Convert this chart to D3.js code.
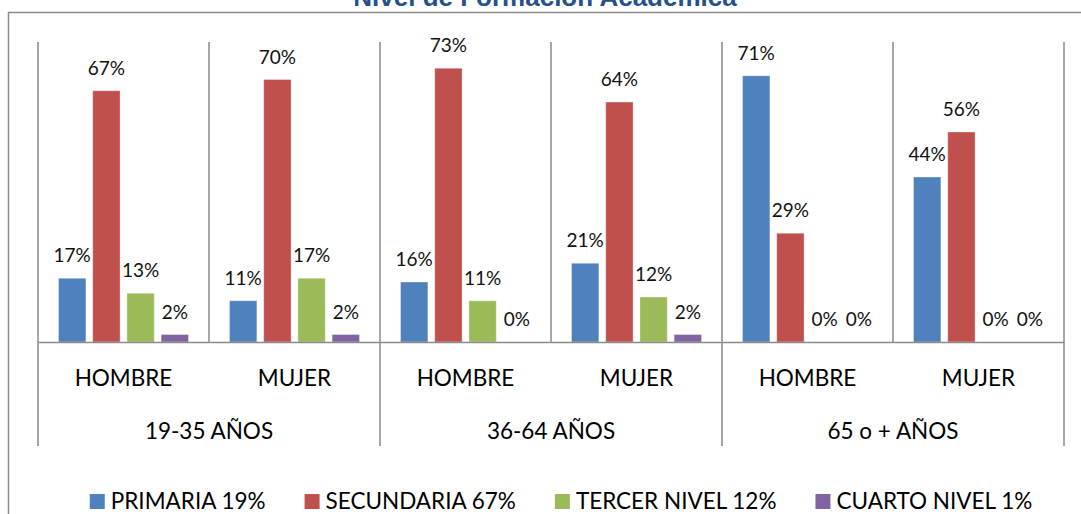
<!DOCTYPE html>
<html>
<head>
<meta charset="utf-8">
<script src="https://cdn.jsdelivr.net/npm/d3@7"></script>
<style>
  body { margin: 0; background: #fff; }
  svg { display: block; font-family: Lato, 'Open Sans', sans-serif; }
</style>
</head>
<body>
<svg id="chart" width="1081" height="514"></svg>
<script>
let groups = ['19-35 AÑOS', '36-64 AÑOS', '65 o + AÑOS']
let sexes = ['HOMBRE', 'MUJER']
let series = ['PRIMARIA', 'SECUNDARIA', 'TERCER NIVEL', 'CUARTO NIVEL']
let totals = [19, 67, 12, 1]
let colors = ['#4F81BD', '#C0504D', '#9BBB59', '#8064A2']
// columns: 19-35 H, 19-35 M, 36-64 H, 36-64 M, 65+ H, 65+ M
let primaria = [17, 11, 16, 21, 71, 44]
let secundaria = [67, 70, 73, 64, 29, 56]
let tercerNivel = [13, 17, 11, 12, 0, 0]
let cuartoNivel = [2, 2, 0, 2, 0, 0]
let values = [primaria, secundaria, tercerNivel, cuartoNivel]

let columns = []
groups.forEach(function(g) {
  sexes.forEach(function(s) {
    columns.push({ key: g + '|' + s, group: g, sex: s })
  })
})

let svg = d3.select('#chart')
let grid = '#8a8a8a'

// outer chart border (runs off the right and bottom edge)
svg.append('rect')
  .attr('x', 8.5).attr('y', 12.5)
  .attr('width', 1200).attr('height', 600)
  .attr('fill', 'none').attr('stroke', grid).attr('stroke-width', 1.5)

// title sits mostly above the visible area, as in the original
svg.append('text')
  .attr('x', 545).attr('y', 6)
  .attr('text-anchor', 'middle')
  .style('font-family', "'Liberation Sans', Arial, sans-serif")
  .style('font-weight', 'bold')
  .style('font-size', '26px')
  .attr('fill', '#26508c')
  .text('Nivel de Formación Académica')

let x = d3.scaleBand()
  .domain(columns.map(d => d.key))
  .range([38, 1064])
let xs = d3.scaleBand()
  .domain(series)
  .range([x.bandwidth() * 0.12, x.bandwidth() * 0.88])
  .paddingInner(0.2)
let y = d3.scaleLinear()
  .domain([0, 80])
  .range([342, 42])

// vertical gridlines between columns
let edges = columns.map(d => x(d.key)).concat([x.range()[1]])
svg.append('g').selectAll('line')
  .data(edges)
  .join('line')
  .attr('x1', d => d).attr('x2', d => d)
  .attr('y1', y(80)).attr('y2', y(0))
  .attr('stroke', grid).attr('stroke-width', 1.5)

// group separators below the axis
let groupEdges = groups.map((g, i) => x(columns[i * 2].key)).concat([x.range()[1]])
svg.append('g').selectAll('line')
  .data(groupEdges)
  .join('line')
  .attr('x1', d => d).attr('x2', d => d)
  .attr('y1', y(0)).attr('y2', 446)
  .attr('stroke', grid).attr('stroke-width', 1.5)

// bars
let cols = svg.append('g').selectAll('g')
  .data(columns)
  .join('g')
  .attr('transform', d => 'translate(' + x(d.key) + ',0)')

cols.each(function(c, ci) {
  let g = d3.select(this)
  let rows = series.map((s, si) => ({ s: s, v: values[si][ci], color: colors[si] }))
  g.selectAll('rect')
    .data(rows)
    .join('rect')
    .attr('x', d => xs(d.s))
    .attr('width', xs.bandwidth())
    .attr('y', d => y(d.v))
    .attr('height', d => y(0) - y(d.v))
    .attr('fill', d => d.color)
    .attr('stroke', 'rgba(255,255,255,0.35)')
    .attr('stroke-width', 1)
  g.selectAll('text')
    .data(rows)
    .join('text')
    .attr('x', d => xs(d.s) + xs.bandwidth() / 2)
    .attr('y', d => y(d.v) - 16)
    .attr('text-anchor', 'middle')
    .style('font-size', '19px')
    .attr('fill', '#111')
    .text(d => d.v + '%')
})

// axis with sex labels
let axis = svg.append('g')
  .attr('transform', 'translate(0,' + y(0) + ')')
  .call(d3.axisBottom(x).tickSize(0).tickSizeOuter(0).tickPadding(28)
    .tickFormat(k => k.split('|')[1]))
axis.select('.domain').attr('stroke', grid).attr('stroke-width', 1.5)
axis.selectAll('text')
  .style('font-family', 'Lato, sans-serif')
  .style('font-size', '22.5px')
  .attr('fill', '#000')

svg.append('g').selectAll('text')
  .data(groups)
  .join('text')
  .attr('x', (g, i) => (groupEdges[i] + groupEdges[i + 1]) / 2)
  .attr('y', 439)
  .attr('text-anchor', 'middle')
  .style('font-size', '22.5px')
  .attr('fill', '#000')
  .text(d => d)

// legend, centred under the chart
let legend = svg.append('g')
let item = legend.selectAll('g')
  .data(series)
  .join('g')
item.append('rect')
  .attr('y', 494).attr('width', 15).attr('height', 15)
  .attr('fill', (d, i) => colors[i])
item.append('text')
  .attr('x', 21).attr('y', 509)
  .style('font-size', '22.5px')
  .attr('fill', '#000')
  .text((d, i) => d + ' ' + totals[i] + '%')
let pos = 0
item.each(function() {
  let w = this.getBBox().width
  d3.select(this).attr('transform', 'translate(' + pos + ',0)')
  pos += w + 39
})
pos -= 39
legend.attr('transform', 'translate(' + (561 - pos / 2) + ',0)')
</script>
</body>
</html>
